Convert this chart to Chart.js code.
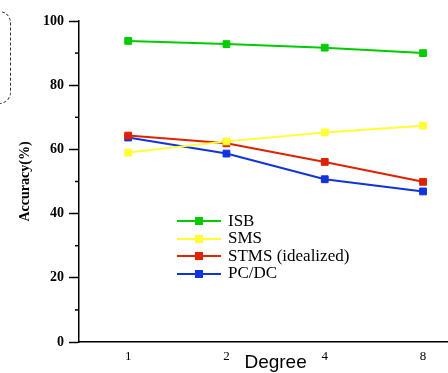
<!DOCTYPE html>
<html lang="en">
<head>
    <meta charset="UTF-8">
    <title>Accuracy vs Degree</title>
    <style>
        body {
            margin: 0;
            width: 448px;
            height: 373px;
            overflow: hidden;
            background: #fff;
            position: relative;
        }
        .frame {
            position: absolute;
            left: -60px;
            top: 11px;
            width: 69px;
            height: 91px;
            border: 1px dashed #333;
            border-radius: 12px;
        }
        #legend {
            position: absolute;
            left: 177px;
            top: 212px;
            font-family: "Liberation Serif", "Times New Roman", serif;
            font-size: 17px;
            color: #000;
        }
        .row {
            position: relative;
            height: 17.5px;
        }
        .row .line {
            position: absolute;
            left: 0;
            top: 8px;
            width: 44px;
            height: 2px;
        }
        .row .box {
            position: absolute;
            left: 18px;
            top: 5px;
            width: 8px;
            height: 8px;
        }
        .row .txt {
            position: absolute;
            left: 51px;
            top: -1.5px;
            white-space: nowrap;
            line-height: 20px;
        }
        canvas { position: absolute; left: 0; top: 0; }
    </style>
</head>
<body>
    <div class="frame"></div>
    <canvas id="accChart" width="478" height="373"></canvas>
    <div id="legend"></div>

    <script src="https://cdn.jsdelivr.net/npm/chart.js"></script>
    <script>
        // values
        const degrees = ['1', '2', '4', '8'];
        const isb = [93.8, 92.8, 91.7, 90.0];
        const sms = [59.0, 62.5, 65.3, 67.4];
        const stms = [64.3, 61.9, 56.1, 49.9];
        const pcdc = [63.7, 58.7, 50.7, 46.9];
        const seriesNames = ['ISB', 'SMS', 'STMS (idealized)', 'PC/DC'];
        const seriesColors = ['#00cc00', '#ffff33', '#dd2200', '#1133dd'];
        const minorTickValues = [10, 30, 50, 70, 90];

        const serif = '"Liberation Serif", "Times New Roman", serif';

        const datasets = [isb, sms, stms, pcdc].map((vals, i) => ({
            label: seriesNames[i],
            data: vals,
            borderColor: seriesColors[i],
            backgroundColor: seriesColors[i],
            borderWidth: 2,
            pointStyle: 'rect',
            pointRadius: 4.8,
            pointBorderWidth: 1,
            tension: 0
        }));

        // small ticks between the labelled ones on the y axis
        const minorTicks = {
            id: 'minorTicks',
            afterDraw(chart) {
                const y = chart.scales.y;
                const ctx = chart.ctx;
                ctx.save();
                ctx.strokeStyle = '#000';
                ctx.lineWidth = 1.5;
                minorTickValues.forEach(v => {
                    const py = y.getPixelForValue(v);
                    ctx.beginPath();
                    ctx.moveTo(y.right - 4, py);
                    ctx.lineTo(y.right, py);
                    ctx.stroke();
                });
                ctx.restore();
            }
        };

        Chart.defaults.color = '#000';

        new Chart(document.getElementById('accChart'), {
            type: 'line',
            data: { labels: degrees, datasets: datasets },
            options: {
                responsive: false,
                animation: false,
                layout: { padding: { top: 21, right: 1, left: 0, bottom: 0 } },
                plugins: {
                    legend: { display: false },
                    tooltip: { enabled: false }
                },
                scales: {
                    x: {
                        offset: true,
                        afterFit: s => { s.height = 31; },
                        grid: { drawOnChartArea: false, drawTicks: false },
                        border: { display: true, color: '#000', width: 1.5 },
                        ticks: { padding: 7, font: { family: serif, size: 13 } },
                        title: {
                            display: true,
                            text: 'Degree',
                            font: { family: '"Liberation Sans", Arial, sans-serif', size: 19 },
                            padding: { top: 0, bottom: -1.5 }
                        }
                    },
                    y: {
                        min: 0,
                        max: 100,
                        afterFit: s => { s.width = 79; },
                        grid: { drawOnChartArea: false, tickLength: 10, tickColor: '#000', tickWidth: 1.5 },
                        border: { display: true, color: '#000', width: 1.5 },
                        ticks: { stepSize: 20, padding: 5, font: { family: serif, size: 14, weight: 'bold' } },
                        title: {
                            display: true,
                            text: 'Accuracy(%)',
                            font: { family: serif, size: 14, weight: 'bold' },
                            padding: { top: 17, bottom: 0 }
                        }
                    }
                }
            },
            plugins: [minorTicks]
        });

        // legend sits inside the plot, built from the same arrays
        const legend = document.getElementById('legend');
        seriesNames.forEach((name, i) => {
            const row = document.createElement('div');
            row.className = 'row';
            row.innerHTML = '<div class="line" style="background:' + seriesColors[i] + '"></div>' +
                '<div class="box" style="background:' + seriesColors[i] + '"></div>' +
                '<span class="txt">' + name + '</span>';
            legend.appendChild(row);
        });
    </script>
</body>
</html>
